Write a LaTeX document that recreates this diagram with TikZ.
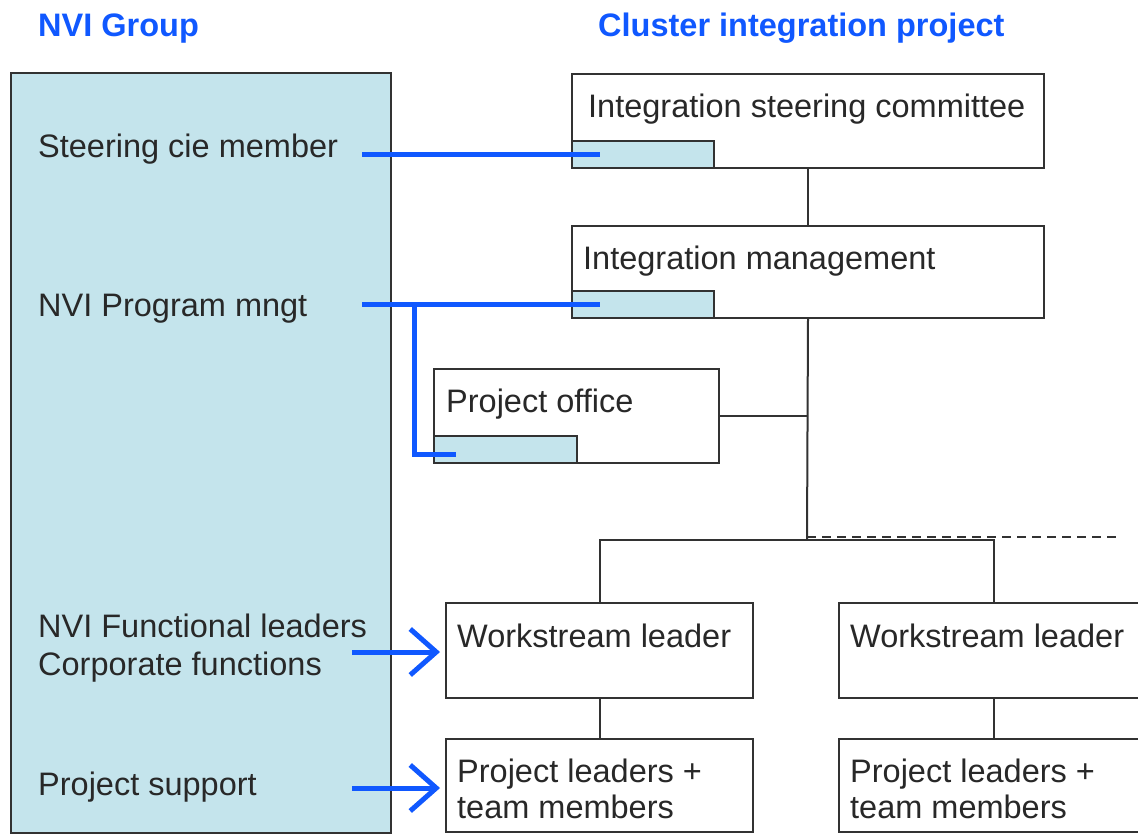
\documentclass[tikz,border=0pt]{standalone}
\usepackage{fontspec}
\setmainfont{Liberation Sans}
\usetikzlibrary{arrows.meta}
\definecolor{linkblue}{RGB}{16,88,255}
\definecolor{panel}{RGB}{196,228,236}
\definecolor{edge}{RGB}{50,50,50}
\definecolor{ink}{RGB}{40,40,40}
\begin{document}
\begin{tikzpicture}[x=1pt,y=-1pt,
  box/.style={draw=edge, line width=2pt, fill=white, rectangle, inner sep=0pt, anchor=north west},
  tab/.style={draw=edge, line width=2pt, fill=panel, rectangle, inner sep=0pt, anchor=south west,
              minimum width=142pt, minimum height=27pt},
  lbl/.style={anchor=base west, inner sep=0pt, text=ink, font=\fontsize{32.5}{37}\selectfont},
  head/.style={anchor=base west, inner sep=0pt, text=linkblue, font=\fontsize{32.5}{37}\selectfont\bfseries},
  link/.style={draw=linkblue, line width=5pt},
  feed/.style={link, -{Straight Barb[length=26pt,width=46pt,line width=5pt]}},
  tree/.style={draw=edge, line width=2pt}]

\clip (0,0) rectangle (1138,833);
\fill[white] (0,0) rectangle (1138,833);

% headings
\node[head] (hnvi) at (38,36) {NVI Group};
\node[head] (hcip) at (598,36) {Cluster integration project};

% NVI group panel and its roles
\node[box, fill=panel, minimum width=380pt, minimum height=760pt] (nvi) at (10,72) {};
\node[lbl] (lsteer) at (38,157) {Steering cie member};
\node[lbl] (lprog)  at (38,316) {NVI Program mngt};
\node[lbl] (lfunc)  at (38,637) {NVI Functional leaders};
\node[lbl] (lcorp)  at (38,675) {Corporate functions};
\node[lbl] (lsupp)  at (38,795) {Project support};

% project organisation
\node[box, minimum width=472pt, minimum height=94pt] (isc) at (571,73) {};
\node[lbl] (tisc) at (588,117) {Integration steering committee};
\node[tab] (tab1) at (isc.south west) {};

\node[box, minimum width=472pt, minimum height=92pt] (im) at (571,225) {};
\node[lbl] (tim) at (583,269) {Integration management};
\node[tab] (tab2) at (im.south west) {};

\node[box, minimum width=285pt, minimum height=94pt] (po) at (433,368) {};
\node[lbl] (tpo) at (446,412) {Project office};
\node[tab, minimum width=143pt] (tab3) at (po.south west) {};

\node[box, minimum width=307pt, minimum height=95pt] (wl1) at (445,602) {};
\node[lbl] (twl1) at (457,647) {Workstream leader};
\node[box, minimum width=310pt, minimum height=95pt] (wl2) at (838,602) {};
\node[lbl] (twl2) at (850,647) {Workstream leader};

\node[box, minimum width=307pt, minimum height=93pt] (pl1) at (445,738) {};
\node[lbl] (tpl1) at (457,782) {Project leaders +};
\node[lbl] (tpl1b) at (457,818) {team members};
\node[box, minimum width=310pt, minimum height=93pt] (pl2) at (838,738) {};
\node[lbl] (tpl2) at (850,782) {Project leaders +};
\node[lbl] (tpl2b) at (850,818) {team members};

% reporting lines
\coordinate (j) at (807,540);
\coordinate (dashend) at (1118,537);
\draw[tree] (isc.south) -- (im.north);
\draw[tree] (im.south) -- (j);
\draw[tree] (po.east) -- (po.east -| j);
\draw[tree] (wl1.north) |- (j);
\draw[tree] (wl2.north) |- (j);
\draw[tree, dash pattern=on 9pt off 6pt] (j |- dashend) -- (dashend);
\draw[tree] (wl1.south) -- (pl1.north);
\draw[tree] (wl2.south) -- (pl2.north);

% links from the NVI group
\coordinate (s1) at (362,153);
\coordinate (s2) at (362,304);
\coordinate (s3) at (414,304);
\coordinate (a1) at (352,652);
\coordinate (a2) at (352,788);
\draw[link] (tab1.west -| s1) -- ([xshift=29pt]tab1.west);
\draw[link] (tab2.west -| s2) -- ([xshift=29pt]tab2.west);
\draw[link] (tab2.west -| s3) |- ([xshift=23pt,yshift=-4.5pt]tab3.west);
\draw[feed] (a1) -- ([xshift=-5pt]a1 -| wl1.west);
\draw[feed] (a2) -- ([xshift=-5pt]a2 -| pl1.west);
\end{tikzpicture}
\end{document}
